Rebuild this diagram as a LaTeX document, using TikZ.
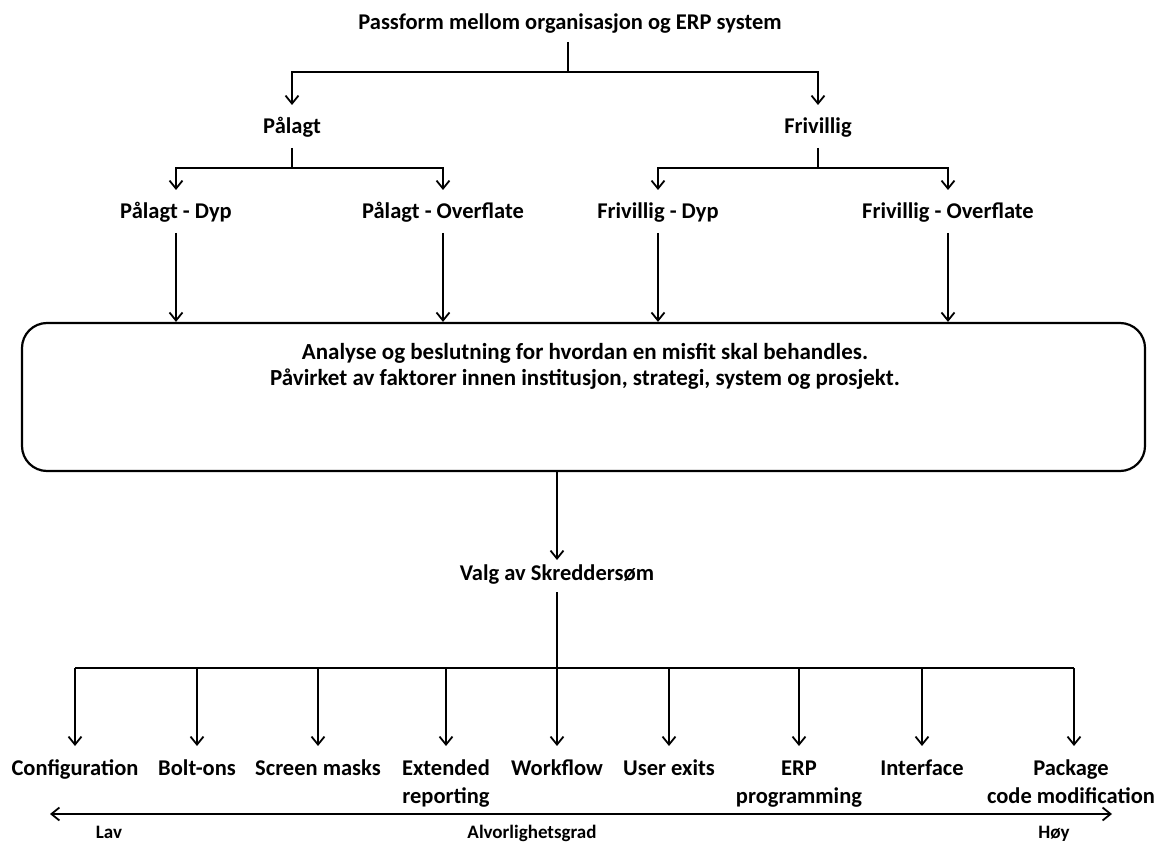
\documentclass[tikz,border=0pt]{standalone}
\usepackage{fontspec}
\setmainfont{Carlito}
\usetikzlibrary{arrows.meta}
\begin{document}
\begin{tikzpicture}[x=1pt,y=-1pt,
  lbl/.style={font=\bfseries\fontsize{22.5}{28}\selectfont, inner sep=0pt, align=center, anchor=base},
  boxtext/.style={lbl, font=\bfseries\fontsize{23}{26}\selectfont},
  small/.style={font=\bfseries\fontsize{19}{22}\selectfont, inner sep=0pt, anchor=base},
  conn/.style={line width=1.8pt},
  tip/.tip={Straight Barb[length=8pt,width=13pt,line width=1.8pt]},
  arr/.style={conn, -tip},
  bigbox/.style={draw, line width=2.2pt, rounded corners=25pt}]
\useasboundingbox[fill=white] (0,0) rectangle (1157,842);

% top level (node base = baseline of the last text line)
\node[lbl] (top) at (570,30) {Passform mellom organisasjon og ERP system};
\node[lbl] (pal) at (292,134) {Pålagt};
\node[lbl] (fri) at (818,134) {Frivillig};
\coordinate (tsplit) at (568,72);
\draw[conn] (tsplit |- 0,42) -- (tsplit);
\draw[arr] (tsplit) -| (pal.base |- 0,105);
\draw[arr] (tsplit) -| (fri.base |- 0,105);

% second level
\node[lbl] (pd) at (176,219) {Pålagt - Dyp};
\node[lbl] (po) at (443,219) {Pålagt - Overflate};
\node[lbl] (fd) at (658,219) {Frivillig - Dyp};
\node[lbl] (fo) at (948,219) {Frivillig - Overflate};
\coordinate (psplit) at (292,168);
\coordinate (fsplit) at (818,168);
\draw[conn] (pal.base |- 0,148) -- (psplit);
\draw[conn] (fri.base |- 0,148) -- (fsplit);
\draw[arr] (psplit) -| (pd.base |- 0,190);
\draw[arr] (psplit) -| (po.base |- 0,190);
\draw[arr] (fsplit) -| (fd.base |- 0,190);
\draw[arr] (fsplit) -| (fo.base |- 0,190);

% analysis box
\node[bigbox, minimum width=1123pt, minimum height=148pt, inner sep=0pt] (box) at (583.5,397) {};
\node[boxtext] (an) at (585,385) {Analyse og beslutning for hvordan en misfit skal behandles.\\Påvirket av faktorer innen institusjon, strategi, system og prosjekt.};
\foreach \n in {pd,po,fd,fo}
  \draw[arr] (\n.base |- 0,233) -- (\n.base |- box.north);

% choice
\node[lbl] (valg) at (557,580) {Valg av Skreddersøm};
\coordinate (vsplit) at (557,668);
\draw[arr] (vsplit |- box.south) -- (vsplit |- 0,560);
\draw[conn] (vsplit |- 0,592) -- (vsplit);

% options
\foreach \n/\x/\y/\t in {c1/75/775/Configuration, c2/197/775/Bolt-ons, c3/318/775/Screen masks,
  c4/446/803/{Extended\\reporting}, c5/557/775/Workflow, c6/669/775/User exits,
  c7/799/803/{ERP\\programming}, c8/922/775/Interface, c9/1071/803/{Package\\code modification}}
  \node[lbl] (\n) at (\x,\y) {\t};
\draw[conn] (75,668) -- (1074,668);
\foreach \x in {75,197,318,446,557,669,799,922,1074}
  \draw[arr] (\x,668) -- (\x,746);

% severity scale
\coordinate (sl) at (50,814);
\coordinate (sr) at (1112,814);
\draw[conn, tip-tip] (sl) -- (sr);
\node[small] (lav) at (109,838) {Lav};
\node[small] (alv) at (532,838) {Alvorlighetsgrad};
\node[small] (hoy) at (1054,838) {Høy};
\end{tikzpicture}
\end{document}
